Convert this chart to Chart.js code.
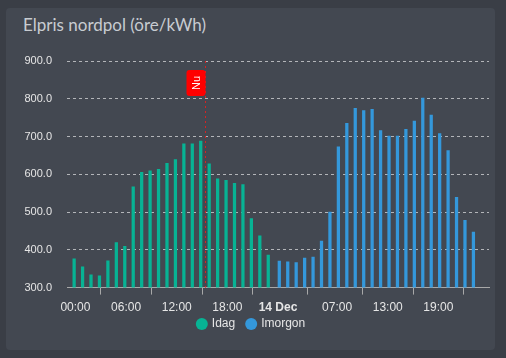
<!DOCTYPE html>
<html>

<head>
  <script src="https://cdn.jsdelivr.net/npm/chart.js@4/dist/chart.umd.min.js"></script>
  <style>
    body { margin: 0; background: #3a3e46; }
    .card { position: absolute; left: 6px; top: 8px; width: 489px; height: 342px; background: #434851; border-radius: 4px; }
    .title { position: absolute; left: 23px; top: 14px; font: 17px Lato, sans-serif; color: #c8ccd1; }
    .chart-container { position: absolute; left: 0; top: 0; width: 506px; height: 358px; }
  </style>
</head>

<body>
  <div class="card"></div>
  <div class="title">Elpris nordpol (öre/kWh)</div>
  <div class="chart-container">
    <canvas id="myChart"></canvas>
  </div>
  <script type="text/javascript">
    // prices per hour, öre/kWh
    var idag = [376, 355, 334, 331, 371, 419, 409, 567, 605, 609, 613, 629, 639, 681, 681, 688, 628, 588, 584, 576, 573, 483, 437, 386];
    var imorgon = [370, 368, 366, 378, 381, 423, 500, 673, 735, 775, 769, 772, 716, 701, 701, 719, 741, 802, 757, 708, 663, 539, 478, 447];

    // x axis = hours counted from 00:00 today
    var tickHours = [0, 6, 12, 18, 24, 31, 37, 43];
    var tickLabels = ['00:00', '06:00', '12:00', '18:00', '14 Dec', '07:00', '13:00', '19:00'];
    var nuHour = 15.4;
    var nuLabel = 'Nu';

    var green = '#07b394';
    var blue = '#3498db';
    var textColor = '#e6e6e6';

    // vertical "Nu" marker
    var nuPlugin = {
      id: 'nu',
      afterDatasetsDraw: function(chart) {
        var ctx = chart.ctx;
        var area = chart.chartArea;
        var x = Math.round(chart.scales.x.getPixelForValue(nuHour)) + 0.5;
        ctx.save();
        ctx.strokeStyle = '#d62222';
        ctx.lineWidth = 1;
        ctx.setLineDash([2, 3]);
        ctx.beginPath();
        ctx.moveTo(x, area.top);
        ctx.lineTo(x, area.bottom);
        ctx.stroke();
        ctx.setLineDash([]);
        // label box
        var w = 19, h = 26, top = area.top + 9;
        ctx.fillStyle = '#ff0000';
        ctx.beginPath();
        ctx.roundRect(x - w, top, w, h, 3);
        ctx.fill();
        ctx.translate(x - w / 2, top + h / 2);
        ctx.rotate(-Math.PI / 2);
        ctx.fillStyle = '#ffffff';
        ctx.font = '11px "Liberation Sans", Arial';
        ctx.textAlign = 'center';
        ctx.textBaseline = 'middle';
        ctx.fillText(nuLabel, 0, 1);
        ctx.restore();
      }
    };

    // pull the legend up closer to the axis labels
    var legendShift = {
      id: 'legendShift',
      afterLayout: function(chart) {
        chart.legend.top -= 15;
        chart.legend.bottom -= 15;
        chart.legend.left += 7;
        chart.legend.right += 7;
      }
    };

    var ctx = document.getElementById('myChart').getContext('2d');
    var chart = new Chart(ctx, {
      type: 'bar',
      data: {
        datasets: [{
          label: 'Idag',
          backgroundColor: green,
          barThickness: 2.6,
          data: idag.map(function(v, i) { return { x: i, y: v }; }),
        }, {
          label: 'Imorgon',
          backgroundColor: blue,
          barThickness: 2.6,
          data: imorgon.map(function(v, i) { return { x: 24 + i, y: v }; }),
        }]
      },
      options: {
        responsive: true,
        maintainAspectRatio: false,
        animation: false,
        layout: { padding: { left: 0, right: 17, top: 61, bottom: 3 } },
        plugins: {
          tooltip: { enabled: false },
          legend: {
            position: 'bottom',
            labels: {
              usePointStyle: true,
              pointStyle: 'circle',
              boxWidth: 8,
              boxHeight: 8.5,
              padding: 12,
              color: textColor,
              font: { family: '"Liberation Sans", Arial', size: 12 }
            }
          }
        },
        scales: {
          x: {
            type: 'linear',
            min: -1,
            max: 49,
            offset: false,
            afterBuildTicks: function(scale) {
              scale.ticks = tickHours.map(function(h) { return { value: h }; });
            },
            ticks: {
              autoSkip: false,
              maxRotation: 0,
              padding: 6,
              color: textColor,
              font: function(c) {
                var bold = c.tick && c.tick.value === 24;
                return { family: '"Liberation Sans", Arial', size: 12, weight: bold ? 'bold' : 'normal' };
              },
              callback: function(value) {
                return tickLabels[tickHours.indexOf(value)];
              }
            },
            grid: {
              drawOnChartArea: false,
              drawTicks: true,
              tickLength: 7,
              color: '#a8a8a8'
            },
            border: { display: true, color: '#a8a8a8', width: 1 }
          },
          y: {
            min: 300,
            max: 900,
            afterFit: function(scale) { scale.width = 67; },
            ticks: {
              stepSize: 100,
              padding: 15,
              color: textColor,
              font: { family: '"Liberation Sans", Arial', size: 11 },
              callback: function(v) { return v.toFixed(1); }
            },
            grid: {
              drawTicks: false,
              color: 'rgba(255,255,255,0.6)'
            },
            border: { display: false, dash: [3, 3] }
          }
        }
      },
      plugins: [nuPlugin, legendShift]
    });
  </script>
</body>

</html>
